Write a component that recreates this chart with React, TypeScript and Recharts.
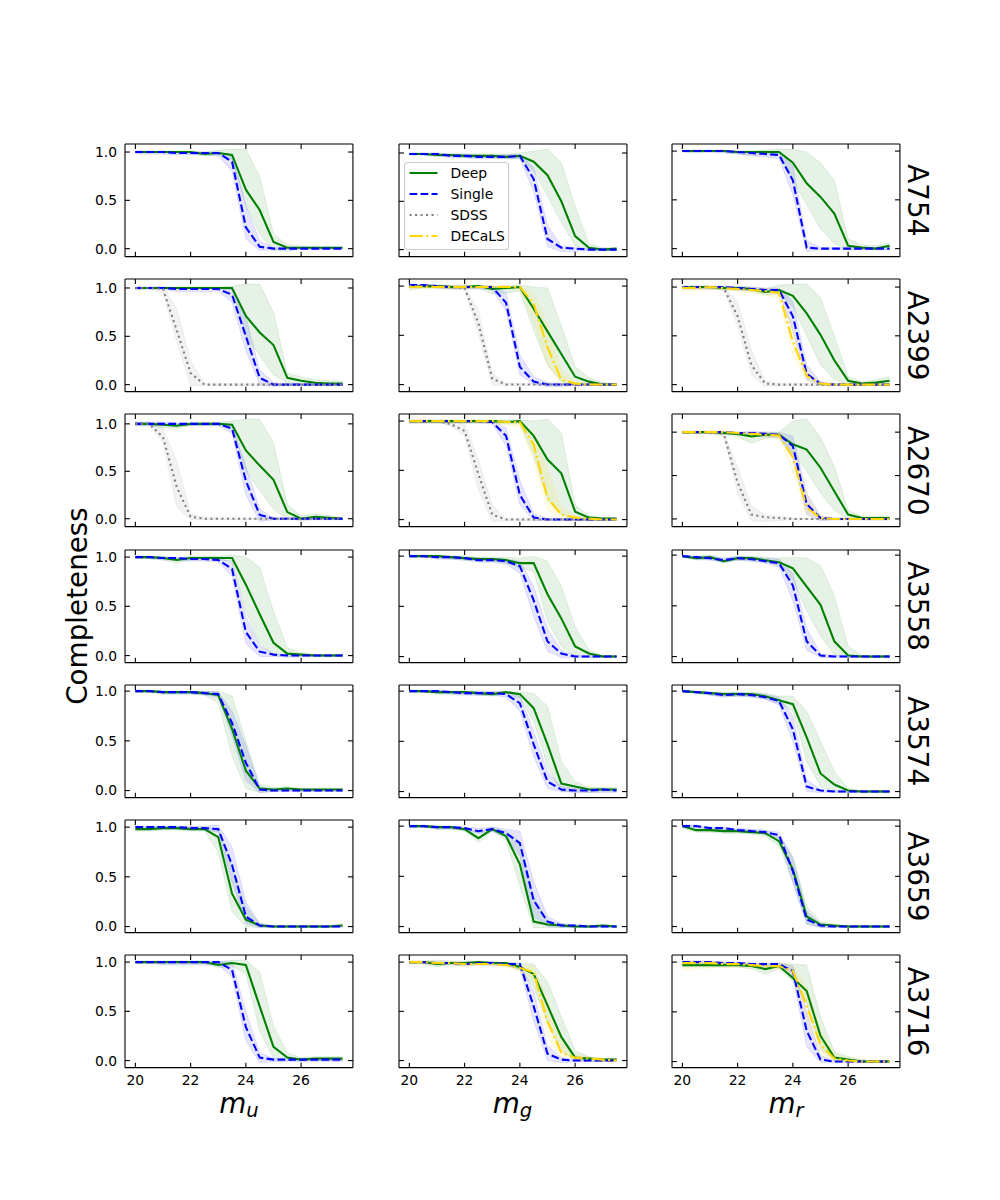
import React from 'react'
import { ComposedChart, Line, Area, XAxis, YAxis } from 'recharts'

// magnitude bins (x positions of every curve)
const MAGS = [20, 20.5, 21, 21.5, 22, 22.5, 23, 23.5, 24, 24.5, 25, 25.5, 26, 26.5, 27, 27.5]
const CLUSTERS = ['A754', 'A2399', 'A2670', 'A3558', 'A3574', 'A3659', 'A3716']
const FILTERS = ['u', 'g', 'r']
const X_TICKS = [20, 22, 24, 26]
const Y_TICKS = [0, 0.5, 1]

type Curve = { v: number[]; lo: number[]; hi: number[] }

// ---- A754 ----
const A754_u_deep: Curve = {
  v: [1, 1, 1, 1, 1, 0.98, 0.99, 0.97, 0.61, 0.4, 0.07, 0.01, 0.01, 0.01, 0.01, 0.01],
  lo: [0.99, 0.99, 0.99, 0.99, 0.98, 0.96, 0.97, 0.92, 0.45, 0.15, -0.02, -0.03, 0, 0, 0, 0],
  hi: [1.01, 1.01, 1.01, 1.01, 1.01, 1.0, 1.02, 1.03, 1.03, 0.75, 0.15, 0.04, 0.03, 0.02, 0.02, 0.02],
}
const A754_u_single: Curve = {
  v: [1, 1, 1, 0.99, 0.99, 0.99, 0.99, 0.9, 0.22, 0.02, 0, 0, 0, 0, 0, 0],
  lo: [0.98, 0.98, 0.98, 0.97, 0.97, 0.97, 0.96, 0.8, 0.1, -0.02, -0.01, -0.01, -0.01, -0.01, -0.01, -0.01],
  hi: [1.01, 1.01, 1.01, 1.0, 1.0, 1.0, 1.0, 0.97, 0.45, 0.08, 0.01, 0.01, 0.01, 0.01, 0.01, 0.01],
}
const A754_g_deep: Curve = {
  v: [0.99, 0.99, 0.98, 0.98, 0.97, 0.97, 0.97, 0.96, 0.97, 0.91, 0.77, 0.5, 0.14, 0.02, 0, 0.01],
  lo: [0.98, 0.98, 0.96, 0.96, 0.95, 0.95, 0.95, 0.94, 0.94, 0.82, 0.55, 0.28, 0.04, -0.01, -0.01, -0.01],
  hi: [1.0, 1.0, 1.0, 0.99, 0.99, 0.99, 0.99, 0.99, 1.0, 1.02, 1.04, 0.9, 0.45, 0.06, 0.02, 0.02],
}
const A754_g_single: Curve = {
  v: [0.99, 0.99, 0.99, 0.97, 0.97, 0.96, 0.96, 0.96, 0.97, 0.73, 0.11, 0.02, 0.01, 0, 0, 0],
  lo: [0.98, 0.98, 0.97, 0.95, 0.95, 0.94, 0.94, 0.94, 0.94, 0.6, 0.03, -0.02, -0.02, -0.01, -0.01, -0.01],
  hi: [1.0, 1.0, 1.0, 0.99, 0.99, 0.98, 0.98, 0.98, 0.99, 0.85, 0.25, 0.04, 0.02, 0.01, 0.01, 0.01],
}
const A754_r_deep: Curve = {
  v: [1, 1, 1, 1, 0.99, 0.99, 0.99, 0.99, 0.88, 0.67, 0.53, 0.36, 0.03, 0.01, 0, 0.03],
  lo: [0.99, 0.98, 0.99, 0.99, 0.97, 0.96, 0.96, 0.96, 0.7, 0.45, 0.2, 0.05, -0.01, -0.01, -0.01, -0.01],
  hi: [1.01, 1.01, 1.01, 1.01, 1.0, 1.0, 1.01, 1.02, 1.02, 0.99, 0.88, 0.7, 0.1, 0.04, 0.03, 0.06],
}
const A754_r_single: Curve = {
  v: [1, 1, 1, 1, 0.99, 0.98, 0.97, 0.96, 0.7, 0.01, 0, 0, 0, 0, 0, 0],
  lo: [0.99, 0.99, 0.99, 0.98, 0.97, 0.95, 0.94, 0.92, 0.55, -0.03, -0.01, -0.01, -0.01, -0.01, -0.01, -0.01],
  hi: [1.01, 1.01, 1.01, 1.01, 1.0, 1.0, 1.0, 0.99, 0.85, 0.08, 0.01, 0.01, 0.01, 0.01, 0.01, 0.01],
}

// ---- A2399 ----
const A2399_u_deep: Curve = {
  v: [1, 1, 1, 1, 1, 1, 1, 1, 0.71, 0.54, 0.41, 0.07, 0.04, 0.02, 0.01, 0.01],
  lo: [0.98, 0.99, 0.99, 0.99, 0.99, 0.99, 0.99, 0.98, 0.5, 0.3, 0.1, 0.02, 0, -0.01, -0.01, -0.01],
  hi: [1.01, 1.01, 1.01, 1.01, 1.01, 1.01, 1.01, 1.02, 1.04, 1.04, 0.75, 0.12, 0.08, 0.05, 0.04, 0.04],
}
const A2399_u_single: Curve = {
  v: [1, 1, 1, 0.99, 0.99, 0.99, 0.99, 0.93, 0.5, 0.07, 0, 0, 0, 0, 0, 0],
  lo: [0.99, 0.99, 0.99, 0.96, 0.96, 0.96, 0.97, 0.85, 0.35, 0, -0.02, -0.01, -0.01, -0.01, -0.01, -0.01],
  hi: [1.01, 1.01, 1.01, 1.0, 1.0, 1.0, 1.0, 0.99, 0.7, 0.15, 0.02, 0.01, 0.01, 0.01, 0.01, 0.01],
}
const A2399_u_sdss: Curve = {
  v: [1, 1, 0.99, 0.56, 0.12, 0, 0, 0, 0, 0, 0, 0, 0, 0, 0, 0],
  lo: [0.99, 0.99, 0.95, 0.45, -0.01, -0.01, -0.01, -0.01, -0.01, -0.01, -0.01, -0.01, -0.01, -0.01, -0.01, -0.01],
  hi: [1.01, 1.01, 1.01, 0.78, 0.25, 0.01, 0.01, 0.01, 0.01, 0.01, 0.01, 0.01, 0.01, 0.01, 0.01, 0.01],
}
const A2399_g_deep: Curve = {
  v: [0.99, 1, 1, 0.99, 0.99, 1, 0.97, 0.98, 0.99, 0.77, 0.54, 0.31, 0.08, 0.03, 0, 0],
  lo: [0.96, 0.98, 0.98, 0.97, 0.97, 0.98, 0.92, 0.93, 0.95, 0.55, 0.2, 0.03, 0, -0.01, -0.01, -0.01],
  hi: [1.01, 1.01, 1.01, 1.01, 1.01, 1.01, 1.0, 1.0, 1.01, 0.99, 0.98, 0.6, 0.18, 0.07, 0.02, 0.01],
}
const A2399_g_single: Curve = {
  v: [1.01, 1.01, 1, 0.99, 0.99, 0.99, 0.99, 0.83, 0.18, 0.03, 0, 0, 0, 0, 0, 0],
  lo: [0.99, 0.99, 0.98, 0.97, 0.97, 0.97, 0.96, 0.75, 0.1, 0, -0.02, -0.02, -0.01, -0.01, -0.01, -0.01],
  hi: [1.02, 1.02, 1.01, 1.0, 1.0, 1.0, 1.0, 0.93, 0.3, 0.08, 0.02, 0.01, 0.01, 0.01, 0.01, 0.01],
}
const A2399_g_sdss: Curve = {
  v: [1, 1, 1, 0.99, 0.98, 0.62, 0.06, 0, 0, 0, 0, 0, 0, 0, 0, 0],
  lo: [0.99, 0.99, 0.99, 0.98, 0.96, 0.52, -0.01, -0.01, -0.01, -0.01, -0.01, -0.01, -0.01, -0.01, -0.01, -0.01],
  hi: [1.01, 1.01, 1.01, 1.0, 1.0, 0.75, 0.12, 0.01, 0.01, 0.01, 0.01, 0.01, 0.01, 0.01, 0.01, 0.01],
}
const A2399_g_decals: Curve = {
  v: [0.99, 0.99, 0.99, 0.99, 0.99, 0.99, 0.99, 0.99, 0.99, 0.82, 0.38, 0.05, 0.01, 0, 0, 0],
  lo: [0.97, 0.97, 0.97, 0.97, 0.97, 0.97, 0.97, 0.97, 0.96, 0.65, 0.2, 0.01, -0.01, -0.01, -0.01, -0.01],
  hi: [1.01, 1.01, 1.01, 1.01, 1.01, 1.01, 1.01, 1.01, 1.0, 0.92, 0.6, 0.15, 0.03, 0.01, 0.01, 0.01],
}
const A2399_r_deep: Curve = {
  v: [1, 1, 1, 0.99, 0.99, 0.98, 0.95, 0.97, 0.91, 0.73, 0.51, 0.25, 0.04, 0.01, 0.02, 0.04],
  lo: [0.98, 0.98, 0.98, 0.97, 0.97, 0.96, 0.92, 0.93, 0.8, 0.5, 0.2, 0.05, 0, -0.01, -0.01, 0],
  hi: [1.01, 1.01, 1.01, 1.01, 1.01, 1.0, 0.98, 1.02, 1.03, 1.03, 0.89, 0.5, 0.08, 0.03, 0.05, 0.08],
}
const A2399_r_single: Curve = {
  v: [1, 1, 1, 1, 0.99, 0.98, 0.97, 0.97, 0.7, 0.11, 0.01, 0, 0, 0, 0, 0],
  lo: [0.98, 0.98, 0.98, 0.98, 0.97, 0.96, 0.95, 0.94, 0.55, 0.05, -0.01, -0.01, -0.01, -0.01, -0.01, -0.01],
  hi: [1.01, 1.01, 1.01, 1.01, 1.0, 1.0, 0.99, 0.99, 0.85, 0.2, 0.03, 0.01, 0.01, 0.01, 0.01, 0.01],
}
const A2399_r_sdss: Curve = {
  v: [1, 1, 1, 0.99, 0.7, 0.2, 0.01, 0, 0, 0, 0, 0, 0, 0, 0, 0],
  lo: [0.99, 0.99, 0.99, 0.97, 0.6, 0.1, -0.02, -0.01, -0.01, -0.01, -0.01, -0.01, -0.01, -0.01, -0.01, -0.01],
  hi: [1.01, 1.01, 1.01, 1.0, 0.85, 0.35, 0.04, 0.01, 0.01, 0.01, 0.01, 0.01, 0.01, 0.01, 0.01, 0.01],
}
const A2399_r_decals: Curve = {
  v: [0.99, 0.99, 1, 0.99, 0.98, 0.97, 0.96, 0.94, 0.44, 0.09, 0.01, 0, 0, 0, 0, 0],
  lo: [0.96, 0.96, 0.97, 0.97, 0.96, 0.94, 0.92, 0.88, 0.3, 0.03, -0.01, -0.01, -0.01, -0.01, -0.01, -0.01],
  hi: [1.01, 1.01, 1.01, 1.0, 1.0, 0.99, 0.99, 0.98, 0.6, 0.15, 0.02, 0.01, 0.01, 0.01, 0.01, 0.01],
}

// ---- A2670 ----
const A2670_u_deep: Curve = {
  v: [1, 1, 0.99, 0.98, 1, 1, 1, 0.99, 0.72, 0.56, 0.41, 0.07, 0, 0.02, 0.01, 0],
  lo: [0.98, 0.98, 0.96, 0.95, 0.98, 0.98, 0.98, 0.97, 0.5, 0.3, 0.1, 0, -0.02, -0.01, -0.01, -0.01],
  hi: [1.01, 1.01, 1.01, 1.0, 1.01, 1.01, 1.02, 1.03, 1.05, 1.05, 0.8, 0.15, 0.03, 0.05, 0.03, 0.01],
}
const A2670_u_single: Curve = {
  v: [1, 1, 1, 1, 1, 1, 1, 0.95, 0.4, 0.04, 0, 0, 0, 0, 0, 0],
  lo: [0.98, 0.98, 0.98, 0.98, 0.98, 0.98, 0.98, 0.9, 0.25, -0.03, -0.01, -0.01, -0.01, -0.01, -0.01, -0.01],
  hi: [1.02, 1.02, 1.02, 1.01, 1.01, 1.01, 1.01, 0.99, 0.55, 0.1, 0.01, 0.01, 0.01, 0.01, 0.01, 0.01],
}
const A2670_u_sdss: Curve = {
  v: [1, 1, 0.86, 0.33, 0.02, 0, 0, 0, 0, 0, 0, 0, 0, 0, 0, 0],
  lo: [0.99, 0.99, 0.8, 0.12, -0.01, -0.01, -0.01, -0.01, -0.01, -0.01, -0.01, -0.01, -0.01, -0.01, -0.01, -0.01],
  hi: [1.01, 1.01, 0.95, 0.6, 0.05, 0.01, 0.01, 0.01, 0.01, 0.01, 0.01, 0.01, 0.01, 0.01, 0.01, 0.01],
}
const A2670_g_deep: Curve = {
  v: [1, 1, 1, 1, 1, 1, 1, 0.99, 1, 0.85, 0.61, 0.47, 0.08, 0.02, 0.01, 0.01],
  lo: [0.98, 0.98, 0.98, 0.98, 0.98, 0.98, 0.98, 0.97, 0.97, 0.65, 0.2, 0.05, 0, -0.01, -0.01, -0.01],
  hi: [1.01, 1.01, 1.01, 1.01, 1.01, 1.01, 1.01, 1.01, 1.01, 1.0, 1.02, 0.88, 0.15, 0.04, 0.02, 0.02],
}
const A2670_g_single: Curve = {
  v: [1, 1, 1, 1, 1, 1, 0.99, 0.85, 0.25, 0.02, 0, 0, 0, 0, 0, 0],
  lo: [0.98, 0.98, 0.98, 0.98, 0.98, 0.98, 0.97, 0.75, 0.15, -0.01, -0.01, -0.01, -0.01, -0.01, -0.01, -0.01],
  hi: [1.01, 1.01, 1.01, 1.01, 1.01, 1.01, 1.0, 0.93, 0.4, 0.06, 0.01, 0.01, 0.01, 0.01, 0.01, 0.01],
}
const A2670_g_sdss: Curve = {
  v: [1, 1, 1, 0.97, 0.9, 0.46, 0.05, 0, 0, 0, 0, 0, 0, 0, 0, 0],
  lo: [0.99, 0.99, 0.99, 0.95, 0.85, 0.3, -0.02, -0.01, -0.01, -0.01, -0.01, -0.01, -0.01, -0.01, -0.01, -0.01],
  hi: [1.01, 1.01, 1.01, 1.0, 0.97, 0.6, 0.15, 0.01, 0.01, 0.01, 0.01, 0.01, 0.01, 0.01, 0.01, 0.01],
}
const A2670_g_decals: Curve = {
  v: [1, 1, 1, 1, 1, 1, 1, 0.99, 0.99, 0.76, 0.22, 0.05, 0.02, 0.01, 0, 0],
  lo: [0.98, 0.98, 0.98, 0.98, 0.98, 0.98, 0.98, 0.96, 0.94, 0.6, 0.1, 0, -0.01, -0.01, -0.01, -0.01],
  hi: [1.01, 1.01, 1.01, 1.01, 1.01, 1.01, 1.01, 1.0, 1.0, 0.88, 0.5, 0.12, 0.04, 0.02, 0.01, 0.01],
}
const A2670_r_deep: Curve = {
  v: [1, 1, 1, 0.99, 0.98, 0.95, 0.97, 0.97, 0.86, 0.8, 0.59, 0.32, 0.05, 0.01, 0.01, 0.01],
  lo: [0.99, 0.99, 0.98, 0.97, 0.95, 0.87, 0.93, 0.94, 0.75, 0.55, 0.3, 0.1, 0, -0.01, -0.01, -0.01],
  hi: [1.01, 1.01, 1.01, 1.01, 1.0, 0.99, 1.0, 1.0, 1.13, 1.15, 0.94, 0.61, 0.1, 0.03, 0.03, 0.03],
}
const A2670_r_single: Curve = {
  v: [1, 1, 1, 1, 0.99, 0.99, 0.98, 0.97, 0.84, 0.17, 0.01, 0, 0, 0, 0, 0],
  lo: [0.99, 0.99, 0.99, 0.99, 0.97, 0.97, 0.95, 0.94, 0.7, 0.05, -0.02, -0.01, -0.01, -0.01, -0.01, -0.01],
  hi: [1.01, 1.01, 1.01, 1.01, 1.0, 1.01, 1.0, 1.0, 0.95, 0.3, 0.03, 0.01, 0.01, 0.01, 0.01, 0.01],
}
const A2670_r_sdss: Curve = {
  v: [1, 1, 1, 0.98, 0.42, 0.05, 0.02, 0.01, 0, 0, 0, 0, 0, 0, 0, 0],
  lo: [0.99, 0.99, 0.99, 0.95, 0.3, -0.02, -0.03, -0.02, -0.01, -0.01, -0.01, -0.01, -0.01, -0.01, -0.01, -0.01],
  hi: [1.01, 1.01, 1.01, 1.0, 0.6, 0.15, 0.05, 0.03, 0.01, 0.01, 0.01, 0.01, 0.01, 0.01, 0.01, 0.01],
}
const A2670_r_decals: Curve = {
  v: [1, 1, 1, 1, 0.99, 0.98, 0.97, 0.96, 0.71, 0.13, 0.01, 0, 0, 0, 0, 0],
  lo: [0.98, 0.98, 0.98, 0.98, 0.97, 0.96, 0.95, 0.92, 0.55, 0.05, -0.01, -0.01, -0.01, -0.01, -0.01, -0.01],
  hi: [1.01, 1.01, 1.01, 1.01, 1.0, 1.0, 0.99, 0.99, 0.85, 0.3, 0.03, 0.01, 0.01, 0.01, 0.01, 0.01],
}

// ---- A3558 ----
const A3558_u_deep: Curve = {
  v: [1, 1, 0.99, 0.97, 0.99, 0.99, 0.99, 0.99, 0.72, 0.42, 0.13, 0.02, 0.01, 0, 0, 0],
  lo: [0.99, 0.98, 0.97, 0.94, 0.97, 0.97, 0.97, 0.96, 0.45, 0.12, 0, -0.02, -0.01, -0.01, -0.01, -0.01],
  hi: [1.01, 1.01, 1.01, 0.99, 1.01, 1.01, 1.01, 1.02, 1.0, 0.9, 0.45, 0.08, 0.03, 0.01, 0.01, 0.01],
}
const A3558_u_single: Curve = {
  v: [1, 1, 0.99, 0.99, 0.98, 0.98, 0.97, 0.88, 0.24, 0.04, 0.01, 0, 0, 0, 0, 0],
  lo: [0.99, 0.99, 0.97, 0.97, 0.96, 0.96, 0.95, 0.8, 0.12, -0.01, -0.01, -0.01, -0.01, -0.01, -0.01, -0.01],
  hi: [1.01, 1.01, 1.0, 1.0, 0.99, 0.99, 0.99, 0.95, 0.4, 0.1, 0.02, 0.01, 0.01, 0.01, 0.01, 0.01],
}
const A3558_g_deep: Curve = {
  v: [1, 1, 1, 0.99, 0.98, 0.97, 0.97, 0.96, 0.93, 0.93, 0.62, 0.38, 0.1, 0.03, 0, 0],
  lo: [0.99, 0.99, 0.98, 0.97, 0.96, 0.95, 0.95, 0.93, 0.88, 0.85, 0.35, 0.1, 0, -0.01, -0.01, -0.01],
  hi: [1.01, 1.01, 1.01, 1.0, 1.0, 0.99, 0.99, 0.99, 0.98, 1.0, 0.95, 0.7, 0.3, 0.06, 0.01, 0.01],
}
const A3558_g_single: Curve = {
  v: [1, 1, 0.99, 0.99, 0.98, 0.96, 0.96, 0.95, 0.9, 0.56, 0.15, 0.03, 0, 0, 0, 0],
  lo: [0.99, 0.99, 0.97, 0.97, 0.96, 0.94, 0.94, 0.92, 0.83, 0.4, 0.05, -0.01, -0.01, -0.01, -0.01, -0.01],
  hi: [1.01, 1.01, 1.0, 1.0, 0.99, 0.98, 0.98, 0.97, 0.95, 0.7, 0.28, 0.06, 0.01, 0.01, 0.01, 0.01],
}
const A3558_r_deep: Curve = {
  v: [0.99, 0.97, 0.98, 0.94, 0.97, 0.97, 0.95, 0.93, 0.87, 0.69, 0.51, 0.15, 0.01, 0, 0, 0],
  lo: [0.98, 0.95, 0.96, 0.92, 0.95, 0.95, 0.93, 0.9, 0.76, 0.45, 0.2, 0.02, -0.01, -0.01, -0.01, -0.01],
  hi: [1.0, 0.99, 1.0, 0.97, 0.99, 0.99, 0.98, 0.97, 0.98, 0.97, 0.9, 0.6, 0.1, 0.01, 0.01, 0.01],
}
const A3558_r_single: Curve = {
  v: [0.99, 0.98, 0.97, 0.95, 0.97, 0.96, 0.94, 0.92, 0.7, 0.15, 0.01, 0, 0, 0, 0, 0],
  lo: [0.98, 0.96, 0.95, 0.93, 0.95, 0.94, 0.92, 0.88, 0.55, 0.06, -0.01, -0.01, -0.01, -0.01, -0.01, -0.01],
  hi: [1.0, 0.99, 0.99, 0.97, 0.99, 0.98, 0.97, 0.96, 0.82, 0.28, 0.03, 0.01, 0.01, 0.01, 0.01, 0.01],
}

// ---- A3574 ----
const A3574_u_deep: Curve = {
  v: [1, 1, 0.99, 0.99, 0.99, 0.98, 0.96, 0.62, 0.2, 0.02, 0.01, 0.02, 0.01, 0.01, 0.01, 0.01],
  lo: [0.99, 0.99, 0.97, 0.97, 0.97, 0.96, 0.88, 0.35, 0.02, -0.02, -0.01, 0, -0.01, -0.01, -0.01, -0.01],
  hi: [1.01, 1.01, 1.0, 1.0, 1.0, 1.0, 1.0, 0.95, 0.5, 0.06, 0.03, 0.04, 0.02, 0.02, 0.02, 0.02],
}
const A3574_u_single: Curve = {
  v: [1, 1, 0.99, 0.99, 0.99, 0.98, 0.97, 0.68, 0.28, 0.01, 0, 0, 0, 0, 0, 0],
  lo: [0.99, 0.99, 0.97, 0.97, 0.97, 0.96, 0.94, 0.55, 0.1, -0.02, -0.01, -0.01, -0.01, -0.01, -0.01, -0.01],
  hi: [1.01, 1.01, 1.0, 1.0, 1.0, 1.0, 0.99, 0.8, 0.45, 0.04, 0.01, 0.01, 0.01, 0.01, 0.01, 0.01],
}
const A3574_g_deep: Curve = {
  v: [1, 1, 0.99, 0.99, 0.99, 0.98, 0.97, 0.99, 0.97, 0.83, 0.47, 0.08, 0.05, 0.02, 0.02, 0.02],
  lo: [0.99, 0.99, 0.97, 0.97, 0.97, 0.96, 0.95, 0.97, 0.93, 0.7, 0.25, 0, 0, -0.01, 0, 0],
  hi: [1.01, 1.01, 1.0, 1.0, 1.0, 1.0, 0.99, 1.0, 0.99, 0.98, 0.85, 0.3, 0.1, 0.04, 0.04, 0.04],
}
const A3574_g_single: Curve = {
  v: [1, 1, 1, 0.99, 0.98, 0.98, 0.98, 0.97, 0.88, 0.47, 0.1, 0.02, 0.01, 0.01, 0.02, 0.01],
  lo: [0.99, 0.99, 0.98, 0.97, 0.96, 0.96, 0.96, 0.94, 0.8, 0.35, 0.03, 0, -0.01, -0.01, -0.01, -0.01],
  hi: [1.01, 1.01, 1.01, 1.0, 1.0, 1.0, 1.0, 0.99, 0.95, 0.6, 0.2, 0.05, 0.03, 0.02, 0.03, 0.02],
}
const A3574_r_deep: Curve = {
  v: [1, 0.99, 0.98, 0.97, 0.97, 0.97, 0.95, 0.91, 0.87, 0.54, 0.18, 0.07, 0.01, 0, 0, 0],
  lo: [0.99, 0.98, 0.96, 0.95, 0.95, 0.95, 0.92, 0.88, 0.8, 0.3, 0.05, 0, -0.01, -0.01, -0.01, -0.01],
  hi: [1.01, 1.0, 0.99, 0.99, 0.99, 0.99, 0.98, 0.95, 0.95, 0.8, 0.5, 0.2, 0.03, 0.01, 0.01, 0.01],
}
const A3574_r_single: Curve = {
  v: [1, 0.99, 0.98, 0.96, 0.97, 0.96, 0.94, 0.9, 0.62, 0.05, 0.01, 0, 0, 0, 0, 0],
  lo: [0.99, 0.98, 0.96, 0.94, 0.95, 0.94, 0.92, 0.86, 0.5, 0, -0.01, -0.01, -0.01, -0.01, -0.01, -0.01],
  hi: [1.01, 1.0, 0.99, 0.98, 0.99, 0.98, 0.97, 0.94, 0.75, 0.12, 0.02, 0.01, 0.01, 0.01, 0.01, 0.01],
}

// ---- A3659 ----
const A3659_u_deep: Curve = {
  v: [0.98, 0.98, 0.99, 0.99, 0.98, 0.98, 0.9, 0.33, 0.07, 0.01, 0, 0, 0, 0, 0, 0.01],
  lo: [0.96, 0.96, 0.97, 0.97, 0.96, 0.96, 0.75, 0.15, 0, -0.01, -0.01, -0.01, -0.01, -0.01, -0.01, 0],
  hi: [1.0, 1.0, 1.01, 1.01, 1.0, 1.0, 0.98, 0.6, 0.2, 0.03, 0.01, 0.01, 0.01, 0.01, 0.01, 0.03],
}
const A3659_u_single: Curve = {
  v: [1, 1, 1, 1, 0.99, 0.99, 0.98, 0.62, 0.1, 0.01, 0, 0, 0, 0, 0, 0],
  lo: [0.98, 0.98, 0.98, 0.98, 0.97, 0.97, 0.95, 0.45, 0.03, -0.01, -0.01, -0.01, -0.01, -0.01, -0.01, -0.01],
  hi: [1.01, 1.01, 1.01, 1.01, 1.01, 1.01, 1.02, 0.8, 0.25, 0.03, 0.01, 0.01, 0.01, 0.01, 0.01, 0.01],
}
const A3659_g_deep: Curve = {
  v: [1, 1, 0.99, 0.99, 0.97, 0.88, 0.97, 0.9, 0.62, 0.05, 0.02, 0.01, 0, 0, 0.01, 0],
  lo: [0.99, 0.99, 0.97, 0.97, 0.95, 0.84, 0.95, 0.86, 0.4, -0.01, -0.01, -0.01, -0.01, -0.01, -0.01, -0.01],
  hi: [1.01, 1.01, 1.0, 1.0, 0.99, 0.93, 0.99, 0.95, 0.85, 0.3, 0.05, 0.03, 0.01, 0.01, 0.02, 0.01],
}
const A3659_g_single: Curve = {
  v: [1, 1, 0.99, 0.99, 0.98, 0.95, 0.97, 0.93, 0.83, 0.26, 0.05, 0.01, 0.01, 0, 0, 0],
  lo: [0.99, 0.99, 0.97, 0.97, 0.96, 0.93, 0.95, 0.89, 0.7, 0.1, 0, -0.01, -0.01, -0.01, -0.01, -0.01],
  hi: [1.01, 1.01, 1.0, 1.0, 0.99, 0.98, 0.99, 0.97, 0.95, 0.45, 0.1, 0.03, 0.02, 0.01, 0.01, 0.01],
}
const A3659_r_deep: Curve = {
  v: [1, 0.96, 0.96, 0.95, 0.95, 0.94, 0.93, 0.85, 0.57, 0.1, 0.02, 0.01, 0, 0, 0, 0],
  lo: [0.98, 0.94, 0.94, 0.93, 0.93, 0.92, 0.9, 0.8, 0.45, 0.03, -0.01, -0.01, -0.01, -0.01, -0.01, -0.01],
  hi: [1.01, 0.98, 0.98, 0.97, 0.97, 0.96, 0.96, 0.9, 0.7, 0.2, 0.05, 0.02, 0.01, 0.01, 0.01, 0.01],
}
const A3659_r_single: Curve = {
  v: [1, 1, 0.98, 0.98, 0.96, 0.95, 0.94, 0.91, 0.55, 0.07, 0.01, 0, 0, 0, 0, 0],
  lo: [0.99, 0.99, 0.97, 0.97, 0.95, 0.94, 0.92, 0.88, 0.43, 0.02, -0.01, -0.01, -0.01, -0.01, -0.01, -0.01],
  hi: [1.01, 1.01, 0.99, 0.99, 0.98, 0.97, 0.96, 0.94, 0.68, 0.15, 0.03, 0.01, 0.01, 0.01, 0.01, 0.01],
}

// ---- A3716 ----
const A3716_u_deep: Curve = {
  v: [1, 1, 1, 1, 1, 1, 0.97, 0.99, 0.97, 0.55, 0.14, 0.03, 0.01, 0.02, 0.02, 0.02],
  lo: [0.99, 0.99, 0.99, 0.99, 0.99, 0.99, 0.94, 0.96, 0.88, 0.3, 0.02, 0, 0, 0, 0, 0],
  hi: [1.01, 1.01, 1.01, 1.01, 1.01, 1.01, 1.0, 1.02, 1.02, 0.9, 0.35, 0.08, 0.03, 0.04, 0.04, 0.04],
}
const A3716_u_single: Curve = {
  v: [1, 1, 1, 1, 1, 1, 1, 0.92, 0.34, 0.03, 0.01, 0.01, 0.01, 0.01, 0.01, 0.01],
  lo: [0.99, 0.99, 0.97, 0.97, 0.97, 0.97, 0.97, 0.85, 0.2, -0.02, -0.01, -0.01, -0.01, -0.01, -0.01, -0.01],
  hi: [1.01, 1.01, 1.01, 1.01, 1.01, 1.01, 1.01, 1.0, 0.5, 0.08, 0.02, 0.02, 0.02, 0.02, 0.02, 0.02],
}
const A3716_g_deep: Curve = {
  v: [1, 1, 0.98, 0.99, 0.99, 1, 0.99, 0.99, 0.95, 0.88, 0.56, 0.24, 0.03, 0.02, 0.01, 0.01],
  lo: [0.99, 0.99, 0.95, 0.98, 0.97, 0.98, 0.97, 0.97, 0.92, 0.75, 0.38, 0.1, 0, -0.01, -0.01, -0.01],
  hi: [1.01, 1.01, 1.02, 1.01, 1.01, 1.01, 1.0, 1.0, 0.99, 0.98, 0.8, 0.45, 0.1, 0.04, 0.02, 0.02],
}
const A3716_g_single: Curve = {
  v: [1, 1, 0.99, 0.99, 0.98, 0.99, 0.99, 0.98, 0.98, 0.55, 0.07, 0.01, 0, 0, 0, 0],
  lo: [0.99, 0.99, 0.97, 0.97, 0.96, 0.97, 0.97, 0.96, 0.93, 0.4, 0, -0.02, -0.01, -0.01, -0.01, -0.01],
  hi: [1.01, 1.01, 1.0, 1.0, 0.99, 1.0, 1.0, 0.99, 0.99, 0.7, 0.15, 0.03, 0.01, 0.01, 0.01, 0.01],
}
const A3716_g_decals: Curve = {
  v: [1, 1, 0.99, 0.99, 0.98, 0.98, 0.98, 0.97, 0.94, 0.9, 0.4, 0.08, 0.03, 0.02, 0.01, 0],
  lo: [0.98, 0.98, 0.97, 0.97, 0.96, 0.96, 0.96, 0.95, 0.9, 0.8, 0.25, 0.02, 0, -0.01, -0.01, -0.01],
  hi: [1.01, 1.01, 1.0, 1.0, 0.99, 0.99, 0.99, 0.99, 0.97, 0.96, 0.6, 0.2, 0.06, 0.04, 0.02, 0.01],
}
const A3716_r_deep: Curve = {
  v: [0.97, 0.97, 0.97, 0.97, 0.97, 0.96, 0.93, 0.96, 0.84, 0.71, 0.26, 0.04, 0.02, 0, 0, 0],
  lo: [0.95, 0.95, 0.95, 0.95, 0.95, 0.93, 0.88, 0.93, 0.8, 0.6, 0.12, 0.01, 0, -0.01, -0.01, -0.01],
  hi: [0.99, 0.99, 0.99, 0.99, 0.99, 0.98, 0.97, 0.99, 0.98, 0.97, 0.45, 0.1, 0.05, 0.02, 0.01, 0.01],
}
const A3716_r_single: Curve = {
  v: [1, 1, 1, 0.99, 0.99, 0.98, 0.98, 0.98, 0.91, 0.31, 0.02, 0, 0, 0, 0, 0],
  lo: [0.99, 0.99, 0.99, 0.98, 0.98, 0.96, 0.96, 0.95, 0.85, 0.15, -0.01, -0.01, -0.01, -0.01, -0.01, -0.01],
  hi: [1.01, 1.01, 1.01, 1.0, 1.0, 0.99, 0.99, 0.99, 0.96, 0.5, 0.06, 0.01, 0.01, 0.01, 0.01, 0.01],
}
const A3716_r_decals: Curve = {
  v: [0.99, 0.99, 0.99, 0.98, 0.98, 0.97, 0.96, 0.96, 0.91, 0.56, 0.17, 0.03, 0.01, 0, 0, 0],
  lo: [0.92, 0.93, 0.94, 0.94, 0.95, 0.94, 0.93, 0.93, 0.86, 0.4, 0.05, 0, -0.01, -0.01, -0.01, -0.01],
  hi: [1.02, 1.02, 1.01, 1.0, 1.0, 0.99, 0.99, 0.99, 0.96, 0.75, 0.32, 0.08, 0.03, 0.01, 0.01, 0.01],
}

type Panel = { deep: Curve; single: Curve; sdss?: Curve; decals?: Curve }

const PANELS: Record<string, Panel> = {
  A754_u: { deep: A754_u_deep, single: A754_u_single },
  A754_g: { deep: A754_g_deep, single: A754_g_single },
  A754_r: { deep: A754_r_deep, single: A754_r_single },
  A2399_u: { deep: A2399_u_deep, single: A2399_u_single, sdss: A2399_u_sdss },
  A2399_g: { deep: A2399_g_deep, single: A2399_g_single, sdss: A2399_g_sdss, decals: A2399_g_decals },
  A2399_r: { deep: A2399_r_deep, single: A2399_r_single, sdss: A2399_r_sdss, decals: A2399_r_decals },
  A2670_u: { deep: A2670_u_deep, single: A2670_u_single, sdss: A2670_u_sdss },
  A2670_g: { deep: A2670_g_deep, single: A2670_g_single, sdss: A2670_g_sdss, decals: A2670_g_decals },
  A2670_r: { deep: A2670_r_deep, single: A2670_r_single, sdss: A2670_r_sdss, decals: A2670_r_decals },
  A3558_u: { deep: A3558_u_deep, single: A3558_u_single },
  A3558_g: { deep: A3558_g_deep, single: A3558_g_single },
  A3558_r: { deep: A3558_r_deep, single: A3558_r_single },
  A3574_u: { deep: A3574_u_deep, single: A3574_u_single },
  A3574_g: { deep: A3574_g_deep, single: A3574_g_single },
  A3574_r: { deep: A3574_r_deep, single: A3574_r_single },
  A3659_u: { deep: A3659_u_deep, single: A3659_u_single },
  A3659_g: { deep: A3659_g_deep, single: A3659_g_single },
  A3659_r: { deep: A3659_r_deep, single: A3659_r_single },
  A3716_u: { deep: A3716_u_deep, single: A3716_u_single },
  A3716_g: { deep: A3716_g_deep, single: A3716_g_single, decals: A3716_g_decals },
  A3716_r: { deep: A3716_r_deep, single: A3716_r_single, decals: A3716_r_decals },
}

const SERIES = [
  { key: 'deep', label: 'Deep', color: '#008000', dash: undefined },
  { key: 'single', label: 'Single', color: '#0000ff', dash: '7.7 3.3' },
  { key: 'sdss', label: 'SDSS', color: '#808080', dash: '2.1 3.4' },
  { key: 'decals', label: 'DECaLS', color: '#ffd700', dash: '13.3 3.3 2.1 3.3' },
] as const

// matplotlib-like subplot grid (figure 1000x1200)
const FIG_L = 125
const FIG_R = 900
const FIG_T = 144
const FIG_B = 1068
const PW = (FIG_R - FIG_L) / 3.4
const PH = (FIG_B - FIG_T) / 8.2
const GAP_X = PW * 0.2
const GAP_Y = PH * 0.2
const AX_W = 48
const R_W = 6
const TOP_H = 6
const BOT_H = 30
const TICK = 4.9
const X_DOMAIN = [19.625, 27.875]

const FONT = 'DejaVu Sans'
const tickText = { fontFamily: FONT, fontSize: 13.9, fill: '#000' }
const axisStroke = { stroke: '#000', strokeWidth: 1.1 }
const noLabel = () => <g />

function PanelChart({ row, col }: { row: number; col: number }) {
  const p = PANELS[`${CLUSTERS[row]}_${FILTERS[col]}`] as any
  const present = SERIES.filter((s) => p[s.key])
  const data = MAGS.map((m, i) => {
    const o: any = { m }
    present.forEach((s) => {
      const c: Curve = p[s.key]
      o[s.key] = c.v[i]
      o[s.key + 'Band'] = [c.lo[i], c.hi[i]]
    })
    return o
  })
  // autoscale like matplotlib: data limits plus 5% margins
  let mn = Infinity
  let mx = -Infinity
  present.forEach((s) => {
    const c: Curve = p[s.key]
    ;[...c.v, ...c.lo, ...c.hi].forEach((v) => {
      mn = Math.min(mn, v)
      mx = Math.max(mx, v)
    })
  })
  const pad = (mx - mn) * 0.05
  const yDomain = [mn - pad, mx + pad]

  const left = FIG_L + col * (PW + GAP_X) - AX_W
  const top = FIG_T + row * (PH + GAP_Y) - TOP_H
  const showX = row === CLUSTERS.length - 1
  const showY = col === 0

  return (
    <div style={{ position: 'absolute', left, top }}>
      <ComposedChart
        width={PW + AX_W + R_W}
        height={PH + TOP_H + BOT_H}
        data={data}
        margin={{ top: 0, right: 0, bottom: 0, left: 0 }}
      >
        <XAxis
          xAxisId="b"
          dataKey="m"
          type="number"
          domain={X_DOMAIN}
          allowDataOverflow
          ticks={X_TICKS}
          interval={0}
          orientation="bottom"
          height={BOT_H}
          tickSize={-TICK}
          tickMargin={TICK + 7}
          axisLine={axisStroke}
          tickLine={axisStroke}
          tick={showX ? tickText : noLabel}
        />
        <XAxis
          xAxisId="t"
          dataKey="m"
          type="number"
          domain={X_DOMAIN}
          allowDataOverflow
          ticks={X_TICKS}
          interval={0}
          orientation="top"
          height={TOP_H}
          tickSize={-TICK}
          axisLine={axisStroke}
          tickLine={axisStroke}
          tick={noLabel}
        />
        <YAxis
          yAxisId="l"
          type="number"
          domain={yDomain}
          allowDataOverflow
          ticks={Y_TICKS}
          interval={0}
          width={AX_W}
          tickSize={-TICK}
          tickMargin={TICK + 8}
          tickFormatter={(v: number) => v.toFixed(1)}
          axisLine={axisStroke}
          tickLine={axisStroke}
          tick={showY ? tickText : noLabel}
        />
        <YAxis
          yAxisId="r"
          orientation="right"
          type="number"
          domain={yDomain}
          allowDataOverflow
          ticks={Y_TICKS}
          interval={0}
          width={R_W}
          tickSize={-TICK}
          axisLine={axisStroke}
          tickLine={axisStroke}
          tick={noLabel}
        />
        {present.map((s) => (
          <Area
            key={s.key + 'Band'}
            xAxisId="b"
            yAxisId="l"
            type="linear"
            dataKey={s.key + 'Band'}
            fill={s.color}
            fillOpacity={0.1}
            stroke={s.color}
            strokeOpacity={0.1}
            strokeWidth={1}
            dot={false}
            activeDot={false}
            isAnimationActive={false}
          />
        ))}
        {present.map((s) => (
          <Line
            key={s.key}
            xAxisId="b"
            yAxisId="l"
            type="linear"
            dataKey={s.key}
            stroke={s.color}
            strokeWidth={2.08}
            strokeDasharray={s.dash}
            dot={false}
            activeDot={false}
            isAnimationActive={false}
          />
        ))}
      </ComposedChart>
    </div>
  )
}

function Overlay() {
  const legX = FIG_L + PW + GAP_X + 7
  const legY = FIG_T + 18.5
  return (
    <svg
      width={1000}
      height={1200}
      style={{ position: 'absolute', left: 0, top: 0, pointerEvents: 'none' }}
    >
      {CLUSTERS.map((c, r) => (
        <text
          key={c}
          transform={`translate(917, ${FIG_T + r * (PH + GAP_Y) + PH / 2}) rotate(90)`}
          textAnchor="middle"
          dominantBaseline="central"
          fontFamily={FONT}
          fontSize={27.8}
          fill="#000"
        >
          {c}
        </text>
      ))}
      <text
        transform={`translate(77, ${(FIG_T + FIG_B) / 2}) rotate(-90)`}
        textAnchor="middle"
        dominantBaseline="central"
        fontFamily={FONT}
        fontSize={27.8}
        fill="#000"
      >
        Completeness
      </text>
      {FILTERS.map((f, c) => (
        <text
          key={f}
          x={FIG_L + c * (PW + GAP_X) + PW / 2}
          y={1113}
          textAnchor="middle"
          fontFamily={FONT}
          fontStyle="italic"
          fontSize={27.8}
          fill="#000"
        >
          m
          <tspan fontSize={19.5} dy={3.8}>
            {f}
          </tspan>
        </text>
      ))}
      <rect
        x={legX - 1}
        y={legY}
        width={104}
        height={87}
        rx={3}
        fill="#fff"
        fillOpacity={0.8}
        stroke="#cccccc"
        strokeWidth={1.1}
      />
      {SERIES.map((s, i) => (
        <g key={s.key}>
          <line
            x1={legX + 4}
            x2={legX + 32}
            y1={legY + 10.5 + i * 21}
            y2={legY + 10.5 + i * 21}
            stroke={s.color}
            strokeWidth={2.08}
            strokeDasharray={s.dash}
          />
          <text
            x={legX + 45}
            y={legY + 10.5 + i * 21}
            dominantBaseline="central"
            fontFamily={FONT}
            fontSize={13.9}
            fill="#000"
          >
            {s.label}
          </text>
        </g>
      ))}
    </svg>
  )
}

export default function App() {
  return (
    <div style={{ position: 'absolute', left: 0, top: 0, width: 1000, height: 1200, background: '#fff' }}>
      {CLUSTERS.map((_, r) =>
        FILTERS.map((_f, c) => <PanelChart key={`${r}-${c}`} row={r} col={c} />)
      )}
      <Overlay />
    </div>
  )
}
